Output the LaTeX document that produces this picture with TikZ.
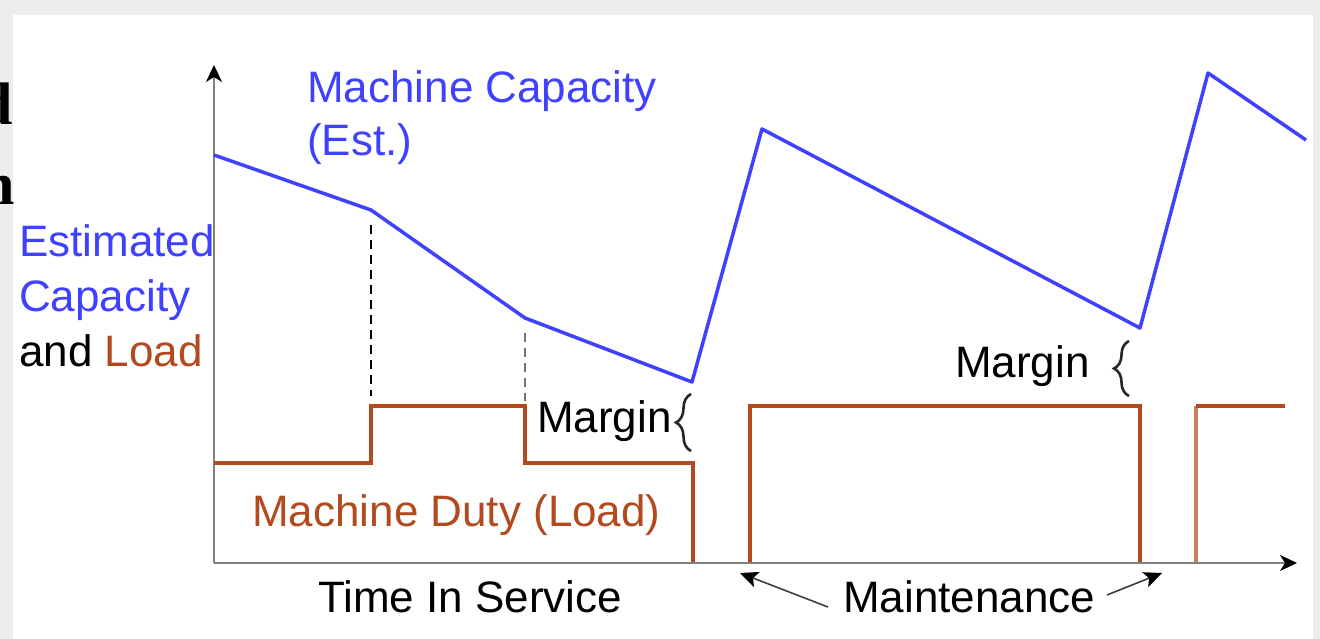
\documentclass[tikz,border=0pt]{standalone}
\usepackage{fontspec}
\setmainfont{Liberation Sans}
\newfontfamily\edgeserif{Liberation Serif}
\usetikzlibrary{arrows.meta,decorations.pathreplacing}

\definecolor{capblue}{RGB}{64,64,255}
\definecolor{loadbrown}{RGB}{178,74,30}
\definecolor{axisgray}{RGB}{128,128,128}
\definecolor{framegray}{RGB}{237,237,237}

\begin{document}
\begin{tikzpicture}[x=1pt,y=-1pt,
  lbl/.style={inner sep=0pt, anchor=base west, font=\fontsize{44}{52}\selectfont},
  capline/.style={capblue, line width=3.5pt, line join=round},
  loadline/.style={loadbrown, line width=3.5pt, line join=miter},
  axis/.style={axisgray, line width=2.2pt, -{Stealth[length=17pt,width=16pt,inset=5pt,black]}},
  guide/.style={line width=2.2pt, dash pattern=on 9pt off 6pt},
  pointer/.style={black!75, line width=1.6pt, -{Stealth[length=18pt,width=16pt,inset=4pt,black]}},
  bracket/.style={black!85, line width=2.6pt, decorate,
    decoration={brace, amplitude=15pt, aspect=0.5}},
  edgeletter/.style={inner sep=0pt, anchor=base east, font=\edgeserif\bfseries\fontsize{60}{60}\selectfont}]

\useasboundingbox (0,0) rectangle (1320,639);
% slide frame and white panel
\fill[framegray] (0,0) rectangle (1320,639);
\fill[white] (13,15) rectangle (1313,639);

% cut-off letters of the neighbouring text
\node[edgeletter] (edgeD) at (13,125) {d};
\node[edgeletter] (edgeN) at (15,205) {n};

% axes
\coordinate (O) at (214,563);
\coordinate (ytop) at (214,65);
\coordinate (xend) at (1297,563);
\draw[axis] (O) -- (ytop);
\draw[axis] (O) -- (xend);

% estimated capacity
\coordinate (c0) at (214,155);
\coordinate (c1) at (371,210);
\coordinate (c2) at (525,318);
\coordinate (c3) at (692,382);
\coordinate (c4) at (762,129);
\coordinate (c5) at (1140,328);
\coordinate (c6) at (1208,73);
\coordinate (c7) at (1306,140);
\draw[capline] (c0) -- (c1) -- (c2) -- (c3) -- (c4) -- (c5) -- (c6) -- (c7);

% guide lines from the capacity knees down to the load steps
\coordinate (g1t) at (371,225);
\coordinate (g1b) at (371,396);
\coordinate (g2t) at (525,333);
\coordinate (g2b) at (525,401);
\draw[guide, black] (g1t) -- (g1b);
\draw[guide, black!55] (g2t) -- (g2b);

% machine duty (load)
\coordinate (l0) at (214,463);
\coordinate (l1) at (371,463);
\coordinate (l2) at (371,406);
\coordinate (l3) at (525,406);
\coordinate (l4) at (525,463);
\coordinate (l5) at (693,463);
\coordinate (l6) at (693,562);
\draw[loadline] (l0) -- (l1) -- (l2) -- (l3) -- (l4) -- (l5) -- (l6);
\coordinate (m0) at (750,562);
\coordinate (m1) at (750,406);
\coordinate (m2) at (1140,406);
\coordinate (m3) at (1140,562);
\draw[loadline] (m0) -- (m1) -- (m2) -- (m3);
\coordinate (n0) at (1196,562);
\coordinate (n1) at (1196,406);
\coordinate (n2) at (1285,406);
\draw[loadline, loadbrown!70] (n0) -- (n1);
\draw[loadline] (n1) -- (n2);

% labels
\node[lbl, text=capblue] (capA) at (307,103) {Machine Capacity};
\node[lbl, text=capblue] (capB) at (307,156) {(Est.)};
\node[lbl, text=capblue] (yA) at (19,256) {Estimated};
\node[lbl, text=capblue] (yB) at (19,311) {Capacity};
\node[lbl] (yC) at (19,366) {and \textcolor{loadbrown}{Load}};
\node[lbl, text=loadbrown] (duty) at (252,526) {Machine Duty (Load)};
\node[lbl] (tis) at (318,612) {Time In Service};
\node[lbl] (maint) at (843,612) {Maintenance};
\node[lbl] (marA) at (537,432) {Margin};
\node[lbl] (marB) at (955,377) {Margin};

% margin braces
\coordinate (bA1) at (691,451);
\coordinate (bA2) at (691,394);
\coordinate (bB1) at (1129,396);
\coordinate (bB2) at (1129,341);
\draw[bracket] (bA1) -- (bA2);
\draw[bracket] (bB1) -- (bB2);

% maintenance pointers
\coordinate (pL) at (828,607);
\coordinate (pLt) at (740,573);
\coordinate (pR) at (1107,595);
\coordinate (pRt) at (1162,573);
\draw[pointer] (pL) -- (pLt);
\draw[pointer] (pR) -- (pRt);
\end{tikzpicture}
\end{document}
